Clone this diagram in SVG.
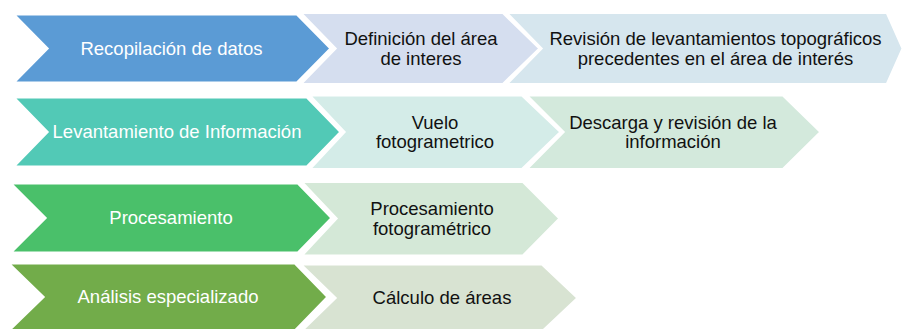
<svg xmlns="http://www.w3.org/2000/svg" width="910" height="329" viewBox="0 0 910 329">
<style>
.s{stroke:#ffffff;stroke-width:3;stroke-linejoin:miter}
.t{font-family:"Liberation Sans",Arial,sans-serif;font-size:18.5px;text-anchor:middle}
.w{fill:#ffffff}
.k{fill:#111111}
</style>
<rect width="910" height="329" fill="#ffffff"/>
<g id="connectors"/>
<!-- Row 1 -->
<g id="n-revision">
<polygon class="s" fill="#D6E6EE" points="506,12.5 887,12.5 903,48.5 887,84.5 506,84.5 541,48.5"/>
<text class="t k" x="715.5" y="45">Revisión de levantamientos topográficos</text>
<text class="t k" x="715.5" y="64.5">precedentes en el área de interés</text>
</g>
<g id="n-definicion">
<polygon class="s" fill="#D5DEEF" points="300,12.5 503,12.5 540,48.5 503,84.5 300,84.5 335,48.5"/>
<text class="t k" x="421" y="45">Definición del área</text>
<text class="t k" x="421" y="64.5">de interes</text>
</g>
<g id="n-recopilacion">
<polygon class="s" fill="#5B9BD5" points="13,14 297,14 331,48.5 297,83 13,83 47,48.5"/>
<text class="t w" x="171.5" y="54.5">Recopilación de datos</text>
</g>
<!-- Row 2 -->
<g id="n-descarga">
<polygon class="s" fill="#D3E9DC" points="526,95 783,95 821,132 783,169.5 526,169.5 563,132"/>
<text class="t k" x="673" y="128.5">Descarga y revisión de la</text>
<text class="t k" x="673" y="148">información</text>
</g>
<g id="n-vuelo">
<polygon class="s" fill="#D4ECE8" points="309,95 522,95 561,132 522,169.5 309,169.5 344,132"/>
<text class="t k" x="435" y="128.5">Vuelo</text>
<text class="t k" x="435" y="148">fotogrametrico</text>
</g>
<g id="n-levantamiento">
<polygon class="s" fill="#52C9B6" points="13,97 307,97 341,132 307,167 13,167 47,132"/>
<text class="t w" x="177" y="138">Levantamiento de Información</text>
</g>
<!-- Row 3 -->
<g id="n-procfoto">
<polygon class="s" fill="#D4E8D7" points="301,181.5 523,181.5 560,218.5 523,256 301,256 336,218.5"/>
<text class="t k" x="432" y="215">Procesamiento</text>
<text class="t k" x="432" y="234.5">fotogramétrico</text>
</g>
<g id="n-procesamiento">
<polygon class="s" fill="#4AC06A" points="10,183 298,183 332,218 298,253 10,253 45,218"/>
<text class="t w" x="171" y="224">Procesamiento</text>
</g>
<!-- Row 4 -->
<g id="n-calculo">
<polygon class="s" fill="#D8E3D2" points="300,264 542,264 578,298 542,332 300,332 335,298"/>
<text class="t k" x="442" y="304">Cálculo de áreas</text>
</g>
<g id="n-analisis">
<polygon class="s" fill="#72AC4A" points="8,263 295,263 328,297 295,331 8,331 43,297"/>
<text class="t w" x="168" y="303">Análisis especializado</text>
</g>
</svg>
